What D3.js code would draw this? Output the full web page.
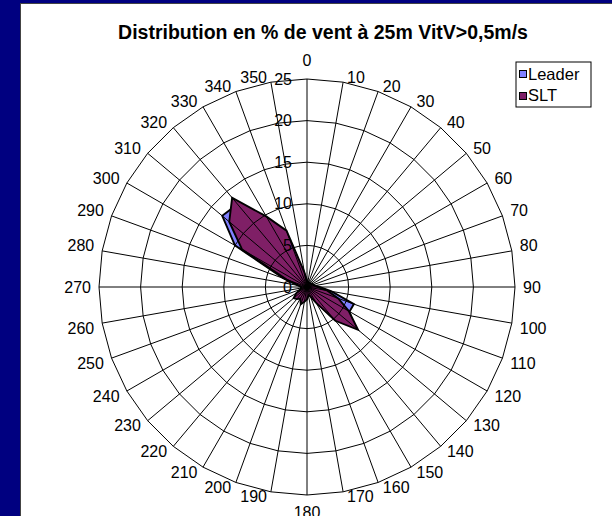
<!DOCTYPE html>
<html>
<head>
<meta charset="utf-8">
<script src="https://cdn.jsdelivr.net/npm/d3@7/dist/d3.min.js"></script>
<style>
  html, body { margin: 0; padding: 0; background: #fff; }
  svg { display: block; font-family: "Liberation Sans", Arial, sans-serif; }
</style>
</head>
<body>
<svg id="chart" width="612" height="516"></svg>
<script>
// Wind direction sectors (degrees) and frequency (%) per sector
const directions = [0,10,20,30,40,50,60,70,80,90,100,110,120,130,140,150,160,170,
                    180,190,200,210,220,230,240,250,260,270,280,290,300,310,320,330,340,350];
const leader = [0.8,0.7,0.6,0.6,0.6,0.6,0.7,0.8,1.0,1.5,3.0,6.0,5.9,7.3,4.8,2.0,1.0,1.0,
                1.3,1.6,2.0,1.5,1.6,1.8,1.2,0.8,0.7,0.7,1.0,3.0,10.0,13.3,13.0,9.0,6.0,1.5];
const slt    = [0.6,0.6,0.5,0.5,0.5,0.6,0.7,0.8,0.9,1.3,2.5,4.0,5.8,8.0,5.3,2.2,1.2,1.0,
                1.5,1.8,2.2,1.6,1.9,2.1,1.5,0.8,0.7,0.7,1.0,2.6,9.0,12.2,14.0,9.8,7.2,1.8];
const radialTicks = [0,5,10,15,20,25];
const seriesNames = ["Leader","SLT"];
const seriesColors = ["#8080ff","#7f1f66"];

const svg = d3.select("#chart");
const W = 612, H = 516;
const cx = 307, cy = 287, R = 208;

// frame
svg.append("rect").attr("width", W).attr("height", H).attr("fill", "#fff");
svg.append("rect").attr("x", 0).attr("y", 0).attr("width", 20).attr("height", H).attr("fill", "#000080");
svg.append("rect").attr("x", 0).attr("y", 0).attr("width", W).attr("height", 3).attr("fill", "#000080");
svg.append("line").attr("x1", 20.5).attr("x2", 20.5).attr("y1", 3).attr("y2", H).attr("stroke", "#444");
svg.append("line").attr("x1", 20).attr("x2", W).attr("y1", 3.5).attr("y2", 3.5).attr("stroke", "#444");

// title
svg.append("text")
  .attr("x", 323).attr("y", 39)
  .attr("text-anchor", "middle")
  .attr("font-weight", "bold")
  .attr("font-size", 19.5)
  .text("Distribution en % de vent à 25m VitV>0,5m/s");

const r = d3.scaleLinear().domain([0, 25]).range([0, R]);
const a = d3.scaleLinear().domain([0, 360]).range([0, 2 * Math.PI]);

const g = svg.append("g").attr("transform", `translate(${cx},${cy})`);

const radial = vals => d3.lineRadial()
  .angle((d, i) => a(directions[i]))
  .radius(d => r(d))
  .curve(d3.curveLinearClosed)(vals);

// series areas
[leader, slt].forEach((vals, k) => {
  g.append("path")
    .attr("d", radial(vals))
    .attr("fill", seriesColors[k])
    .attr("stroke", "#000")
    .attr("stroke-width", 1.9)
    .attr("stroke-linejoin", "miter");
});

// spokes
g.selectAll("line.spoke").data(directions).join("line")
  .attr("class", "spoke")
  .attr("x1", 0).attr("y1", 0)
  .attr("x2", d => r(25) * Math.sin(a(d)))
  .attr("y2", d => -r(25) * Math.cos(a(d)))
  .attr("stroke", "#000").attr("stroke-width", 1);

// rings
radialTicks.filter(t => t > 0).forEach(t => {
  g.append("path")
    .attr("d", radial(directions.map(() => t)))
    .attr("fill", "none")
    .attr("stroke", "#000").attr("stroke-width", 1);
});

// value labels along the north spoke
g.selectAll("text.val").data(radialTicks).join("text")
  .attr("class", "val")
  .attr("x", -15)
  .attr("y", d => -r(d))
  .attr("dy", "0.35em")
  .attr("text-anchor", "end")
  .attr("font-size", 16)
  .text(d => d);

// direction labels: set beside the spoke end, above it in the upper half
// and below it in the lower half; north and south are centred on the spoke
g.selectAll("text.dir").data(directions).join("text")
  .attr("class", "dir")
  .attr("font-size", 16)
  .attr("text-anchor", "middle")
  .attr("dy", "0.35em")
  .text(d => d)
  .each(function(d) {
    const w = this.getComputedTextLength();
    const s = Math.sin(a(d)), c = Math.cos(a(d));
    const ex = r(25) * s, ey = -r(25) * c;
    let x, y;
    if (Math.abs(s) < 1e-6) {
      x = ex;
      y = c > 0 ? ey - 19 : ey + 17.5;
    } else {
      const side = Math.sign(s);
      x = ex + side * (w / 2 + 3 + 5 * Math.abs(s));
      y = Math.abs(c) < 1e-6 ? ey : ey - 5 * Math.sign(c);
    }
    d3.select(this).attr("x", x).attr("y", y);
  });

// legend
const lg = svg.append("g").attr("transform", "translate(516,62)");
lg.append("rect").attr("width", 75).attr("height", 45)
  .attr("fill", "#fff").attr("stroke", "#000").attr("stroke-width", 1);
seriesNames.forEach((name, k) => {
  lg.append("rect").attr("x", 3.5).attr("y", 8.5 + k * 22).attr("width", 7).attr("height", 7)
    .attr("fill", seriesColors[k]).attr("stroke", "#000").attr("stroke-width", 1);
  lg.append("text").attr("x", 12).attr("y", 17.5 + k * 21.5)
    .attr("font-size", 16.5).text(name);
});
</script>
</body>
</html>
